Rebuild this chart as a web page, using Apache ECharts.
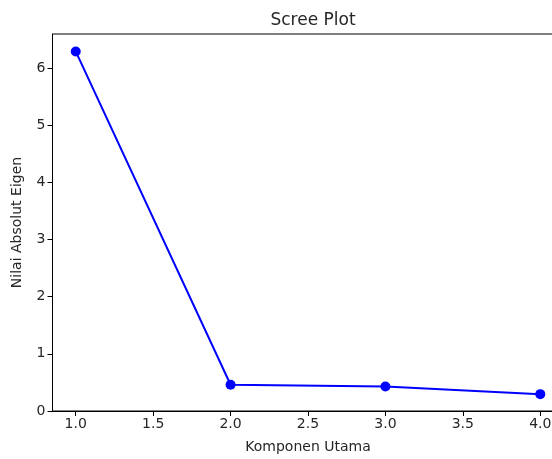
<!DOCTYPE html>
<html>
<head>
<meta charset="utf-8">
<script src="https://cdn.jsdelivr.net/npm/echarts@6/dist/echarts.min.js"></script>
<style>html,body{margin:0;padding:0;background:#fff;overflow:hidden;width:552px;height:459px;}#c{width:566px;height:459px;}</style>
</head>
<body>
<div id="c"></div>
<script>
const titleText = "Scree Plot";
const xName = "Komponen Utama";
const yName = "Nilai Absolut Eigen";
const components = [1, 2, 3, 4];
const eigenValues = [6.29, 0.46, 0.43, 0.295];
const xTicks = [1.0, 1.5, 2.0, 2.5, 3.0, 3.5, 4.0];
const yTicks = [0, 1, 2, 3, 4, 5, 6];

const FONT = "DejaVu Sans";
const TXT = "#262626";
const chart = echarts.init(document.getElementById('c'), null, {renderer: 'canvas'});
chart.setOption({
  animation: false,
  backgroundColor: '#fff',
  title: {
    text: titleText, left: 308, top: 7, textAlign: 'center',
    textStyle: {fontFamily: FONT, fontSize: 17, fontWeight: 'normal', color: TXT}
  },
  grid: {left: 52.5, top: 34, right: 2.5, bottom: 45.3, show: true, borderColor: '#000', borderWidth: 1, backgroundColor: 'transparent'},
  xAxis: {
    type: 'value', min: 0.85, max: 4.15,
    name: xName, nameLocation: 'middle', nameGap: 29,
    nameTextStyle: {fontFamily: FONT, fontSize: 14, color: TXT},
    axisLine: {show: true, lineStyle: {color: '#000', width: 1}},
    axisTick: {show: true, length: 5, lineStyle: {color: '#000'}, customValues: xTicks},
    axisLabel: {fontFamily: FONT, fontSize: 14, color: TXT, margin: 6, customValues: xTicks, formatter: v => v.toFixed(1)},
    splitLine: {show: false}
  },
  yAxis: {
    type: 'value', min: 0, max: 6.595,
    name: yName, nameLocation: 'middle', nameGap: 28, nameRotate: 90,
    nameTextStyle: {fontFamily: FONT, fontSize: 14, color: TXT},
    axisLine: {show: true, lineStyle: {color: '#000', width: 1}},
    axisTick: {show: true, length: 5, lineStyle: {color: '#000'}, customValues: yTicks},
    axisLabel: {fontFamily: FONT, fontSize: 14, color: TXT, margin: 7, customValues: yTicks, formatter: v => String(v)},
    splitLine: {show: false}
  },
  series: [{
    type: 'line',
    data: components.map((c, i) => [c, eigenValues[i]]),
    symbol: 'circle', symbolSize: 10,
    lineStyle: {color: '#0000ff', width: 2},
    itemStyle: {color: '#0000ff'},
    clip: false
  }]
});
</script>
</body>
</html>
